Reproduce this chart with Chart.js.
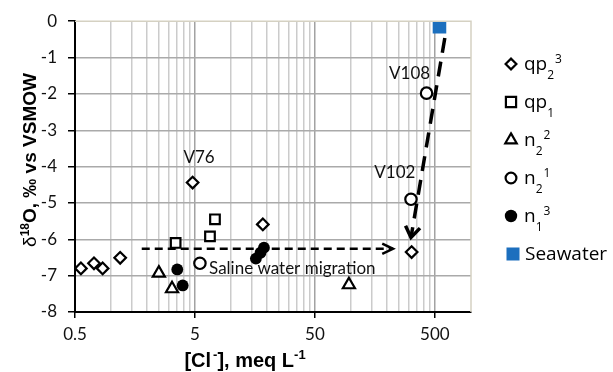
<!DOCTYPE html>
<html>
<head>
<meta charset="utf-8">
<script src="https://cdn.jsdelivr.net/npm/chart.js@4.4.1/dist/chart.umd.min.js"></script>
<style>
  html, body { margin: 0; padding: 0; background: #fff; }
  .chart-container { width: 613px; height: 372px; }
</style>
</head>
<body>
<div class="chart-container">
  <canvas id="isotopeChart" width="613" height="372"></canvas>
</div>
<script>
// [Cl-] in meq/L and d18O in permil
const qp23Cl = [0.56, 0.72, 0.85, 1.19, 4.78, 18.4, 320];
const qp23O = [-6.80, -6.66, -6.80, -6.51, -4.44, -5.59, -6.35];
const qp1Cl = [3.45, 6.67, 7.34];
const qp1O = [-6.10, -5.92, -5.45];
const n22Cl = [2.5, 3.22, 96];
const n22O = [-6.93, -7.36, -7.25];
const n21Cl = [5.5, 316, 426];
const n21O = [-6.66, -4.90, -1.98];
const n13Cl = [3.56, 3.95, 16.1, 17.6, 18.8];
const n13O = [-6.83, -7.27, -6.53, -6.37, -6.23];
const seaCl = [546];
const seaO = [-0.15];

// dashed arrows
const migrationCl = [1.8, 224];
const migrationO = [-6.26, -6.26];
const intrusionCl = [605, 316];
const intrusionO = [-0.46, -5.95];

// text labels in the plot
const noteText = ['V76', 'V108', 'V102', 'Saline water migration'];
const noteCl = [5.41, 308, 232, 6.55];
const noteO = [-3.76, -1.43, -4.16, -6.81];

// axes
const xTickLabels = [0.5, 5, 50, 500];
const xMin = 0.5;
const xMax = 1000;
const yMin = -8;
const yMax = 0;

// legend names: base, subscript, superscript
const legendBase = ['qp', 'qp', 'n', 'n', 'n', 'Seawater'];
const legendSub = ['2', '1', '2', '2', '1', ''];
const legendSup = ['3', '', '2', '1', '3', ''];

const xGridValues = [];
xTickLabels.forEach(start => {
  for (let k = 1; k <= 9; k++) {
    const v = +(start * k).toPrecision(6);
    if (v <= xMax) xGridValues.push(v);
  }
});

const isMajor = v => xTickLabels.some(t => Math.abs(v - t) < t * 1e-6);
const pts = (xs, ys) => xs.map((x, i) => ({ x: x, y: ys[i] }));

const TICK_FONT = 'Lato, "Liberation Sans", sans-serif';
const TITLE_FONT = '"Liberation Sans", Arial, sans-serif';
const LEGEND_FONT = '"Open Sans", "Noto Sans", sans-serif';

const markerStyles = [
  { pointStyle: 'rectRot', pointRadius: 5.8, backgroundColor: '#fff', borderColor: '#000', borderWidth: 2.2 },
  { pointStyle: 'rect', pointRadius: 6.8, backgroundColor: '#fff', borderColor: '#000', borderWidth: 2.2 },
  { pointStyle: 'triangle', pointRadius: 7, backgroundColor: '#fff', borderColor: '#000', borderWidth: 2.2 },
  { pointStyle: 'circle', pointRadius: 5.7, backgroundColor: '#fff', borderColor: '#000', borderWidth: 2.2 },
  { pointStyle: 'circle', pointRadius: 5.9, backgroundColor: '#000', borderColor: '#000', borderWidth: 0 },
  { pointStyle: 'rect', pointRadius: 9.6, backgroundColor: '#1c6fbe', borderColor: '#1c6fbe', borderWidth: 0 },
];
const legendRadius = [5.4, 7.2, 6.6, 5.4, 6.2, 9.2];

const seriesData = [
  pts(qp23Cl, qp23O),
  pts(qp1Cl, qp1O),
  pts(n22Cl, n22O),
  pts(n21Cl, n21O),
  pts(n13Cl, n13O),
  pts(seaCl, seaO),
];

const datasets = seriesData.map((d, i) => Object.assign({
  label: legendBase[i] + legendSub[i] + legendSup[i],
  data: d,
  showLine: false,
  order: 1,
}, markerStyles[i]));

datasets.push({
  label: 'migration',
  data: pts(migrationCl, migrationO),
  showLine: true,
  borderColor: '#000',
  borderWidth: 2.5,
  borderDash: [8, 5],
  pointRadius: 0,
  order: 0,
  arrowLen: 12,
  arrowAngle: 0.45,
});
datasets.push({
  label: 'intrusion',
  data: pts(intrusionCl, intrusionO),
  showLine: true,
  borderColor: '#000',
  borderWidth: 3.5,
  borderDash: [15, 9],
  pointRadius: 0,
  order: 0,
  arrowLen: 13,
  arrowAngle: 0.6,
});

function drawRich(c, parts, x, y) {
  parts.forEach(p => {
    c.font = p.font;
    c.fillText(p.t, x, y + (p.dy || 0));
    x += c.measureText(p.t).width + (p.gap || 0);
  });
  return x;
}

function richWidth(c, parts) {
  let w = 0;
  parts.forEach(p => { c.font = p.font; w += c.measureText(p.t).width + (p.gap || 0); });
  return w;
}

const extras = {
  id: 'extras',
  afterDraw(chart) {
    const c = chart.ctx;
    const area = chart.chartArea;
    const xs = chart.scales.x;
    const ys = chart.scales.y;

    c.save();
    // top and right frame
    c.strokeStyle = '#d5d1c2';
    c.lineWidth = 1.5;
    c.beginPath();
    c.moveTo(area.left, area.top);
    c.lineTo(area.right, area.top);
    c.lineTo(area.right, area.bottom);
    c.stroke();

    // arrow heads
    chart.data.datasets.forEach(ds => {
      if (!ds.arrowLen) return;
      const n = ds.data.length;
      const x1 = xs.getPixelForValue(ds.data[n - 2].x), y1 = ys.getPixelForValue(ds.data[n - 2].y);
      const x2 = xs.getPixelForValue(ds.data[n - 1].x), y2 = ys.getPixelForValue(ds.data[n - 1].y);
      const ang = Math.atan2(y1 - y2, x1 - x2);
      c.strokeStyle = ds.borderColor;
      c.lineWidth = ds.borderWidth;
      c.setLineDash([]);
      c.lineJoin = 'miter';
      c.beginPath();
      c.moveTo(x2 + Math.cos(ang + ds.arrowAngle) * ds.arrowLen, y2 + Math.sin(ang + ds.arrowAngle) * ds.arrowLen);
      c.lineTo(x2, y2);
      c.lineTo(x2 + Math.cos(ang - ds.arrowAngle) * ds.arrowLen, y2 + Math.sin(ang - ds.arrowAngle) * ds.arrowLen);
      c.stroke();
    });

    // notes in the plot
    c.fillStyle = '#111';
    c.font = '17px ' + TICK_FONT;
    c.textBaseline = 'middle';
    noteText.forEach((t, i) => {
      c.textAlign = i === 3 ? 'left' : 'center';
      c.fillText(t, xs.getPixelForValue(noteCl[i]), ys.getPixelForValue(noteO[i]));
    });

    // legend
    c.textAlign = 'left';
    c.textBaseline = 'alphabetic';
    legendBase.forEach((name, i) => {
      const ly = 64 + i * 38;
      const st = markerStyles[i];
      c.fillStyle = st.backgroundColor;
      c.strokeStyle = st.borderColor;
      c.lineWidth = st.borderWidth;
      Chart.helpers.drawPoint(c, {
        pointStyle: st.pointStyle,
        radius: legendRadius[i],
        rotation: 0,
        borderWidth: st.borderWidth,
      }, i === 5 ? 513 : 511, ly);
      c.fillStyle = '#000';
      const parts = [{ t: name, font: '19px ' + LEGEND_FONT }];
      if (legendSub[i]) parts.push({ t: legendSub[i], font: '12px ' + LEGEND_FONT, dy: 9, gap: 1 });
      if (legendSup[i]) parts.push({ t: legendSup[i], font: '12px ' + LEGEND_FONT, dy: -7 });
      drawRich(c, parts, i === 5 ? 525 : 524, ly + 6);
    });

    // axis titles
    c.fillStyle = '#000';
    const xt = [
      { t: '[Cl', font: 'bold 20px ' + TITLE_FONT, gap: 2 },
      { t: '-', font: 'bold 13px ' + TITLE_FONT, dy: -8 },
      { t: '], meq L', font: 'bold 20px ' + TITLE_FONT },
      { t: '-1', font: 'bold 13px ' + TITLE_FONT, dy: -8 },
    ];
    drawRich(c, xt, 245 - richWidth(c, xt) / 2, 367);

    const yt = [
      { t: 'δ', font: '19px ' + TITLE_FONT },
      { t: '18', font: 'bold 12px ' + TITLE_FONT, dy: -7 },
      { t: 'O, ‰ vs VSMOW', font: 'bold 19px ' + TITLE_FONT },
    ];
    c.translate(36, 160);
    c.rotate(-Math.PI / 2);
    drawRich(c, yt, -richWidth(c, yt) / 2, 0);
    c.restore();
  }
};

new Chart(document.getElementById('isotopeChart'), {
  type: 'scatter',
  data: { datasets: datasets },
  options: {
    responsive: false,
    animation: false,
    events: [],
    layout: { padding: { left: 0, top: 16, right: 142, bottom: 0 } },
    plugins: {
      legend: { display: false },
      tooltip: { enabled: false },
    },
    scales: {
      x: {
        type: 'logarithmic',
        min: xMin,
        max: xMax,
        afterBuildTicks: axis => {
          axis.ticks = xGridValues.map(v => ({ value: v }));
        },
        afterFit: scale => { scale.height = 60; },
        border: { display: true, color: '#000', width: 2 },
        grid: {
          lineWidth: 1.5,
          tickLength: 6,
          color: ctx => {
            const v = ctx.tick.value;
            if (v <= xMin || v >= xMax) return 'rgba(0,0,0,0)';
            return isMajor(v) ? '#a2a2a2' : '#cbcbcb';
          },
          tickColor: ctx => isMajor(ctx.tick.value) ? '#000' : 'rgba(0,0,0,0)',
          tickWidth: 1.5,
        },
        ticks: {
          autoSkip: false,
          maxRotation: 0,
          padding: 6,
          color: '#111',
          font: { family: TICK_FONT, size: 17 },
          callback: v => isMajor(v) ? String(v) : '',
        },
      },
      y: {
        min: yMin,
        max: yMax,
        afterFit: scale => { scale.width = 75; },
        border: { display: true, color: '#000', width: 2 },
        grid: {
          lineWidth: 1.5,
          tickLength: 7,
          tickColor: '#000',
          tickWidth: 1.5,
          color: ctx => ctx.tick.value >= yMax ? 'rgba(0,0,0,0)' : '#aaaaaa',
        },
        ticks: {
          stepSize: 1,
          padding: 11,
          color: '#111',
          font: { family: TICK_FONT, size: 17 },
        },
      },
    },
  },
  plugins: [extras],
});
</script>
</body>
</html>
